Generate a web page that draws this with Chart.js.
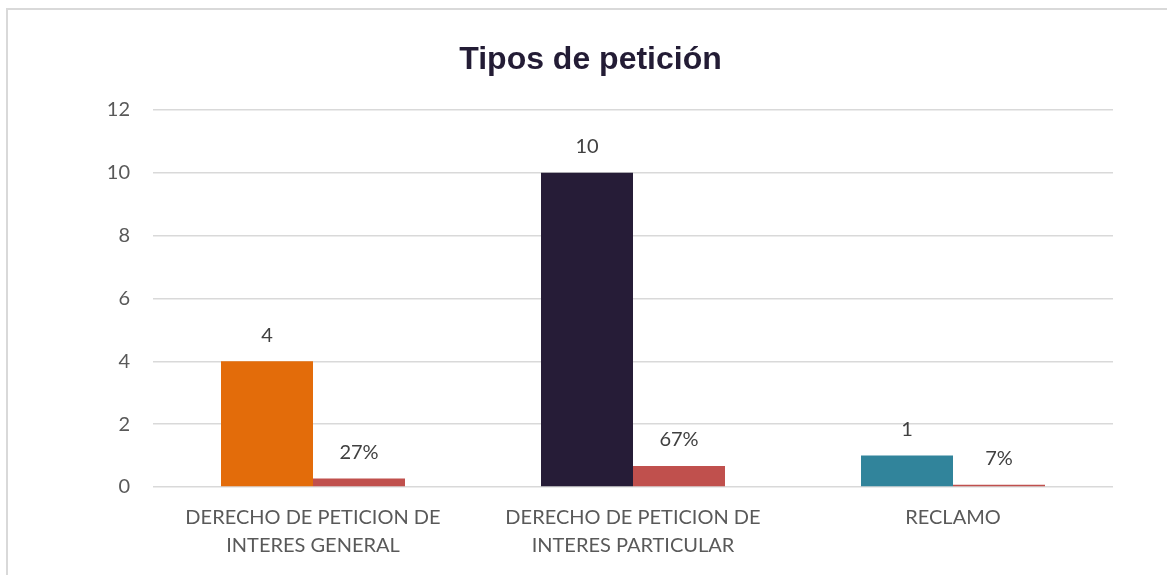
<!DOCTYPE html>
<html>
<head>
<meta charset="utf-8">
<script src="https://cdn.jsdelivr.net/npm/chart.js@4/dist/chart.umd.min.js"></script>
<style>
html,body{margin:0;padding:0;background:#fff;overflow:hidden;}
#wrap{position:relative;width:1167px;height:575px;}
#frame{position:absolute;left:6px;top:8px;width:1200px;height:600px;border:2px solid #d9d9d9;box-sizing:border-box;pointer-events:none;}
canvas{position:absolute;left:0;top:0;}
</style>
</head>
<body>
<div id="wrap">
<div id="frame"></div>
<canvas id="c" width="1167" height="575"></canvas>
</div>
<script>
const categories = [
  ["DERECHO DE PETICION DE", "INTERES GENERAL"],
  ["DERECHO DE PETICION DE", "INTERES PARTICULAR"],
  ["RECLAMO"]
];
const counts = [4, 10, 1];
const countLabels = ["4", "10", "1"];
const shares = [0.27, 0.67, 0.07];
const shareLabels = ["27%", "67%", "7%"];
const countColors = ["#E36C0A", "#261C37", "#31849B"];
const shareColor = "#C0504D";
const yTicks = [0, 2, 4, 6, 8, 10, 12];

const FONT = 'Lato, "Open Sans", sans-serif';

const labelPlugin = {
  id: 'barLabels',
  afterDatasetsDraw(chart) {
    const ctx = chart.ctx;
    ctx.save();
    ctx.font = '20px ' + FONT;
    ctx.fillStyle = '#404040';
    ctx.textAlign = 'center';
    ctx.textBaseline = 'middle';
    chart.data.datasets.forEach((ds, di) => {
      const meta = chart.getDatasetMeta(di);
      meta.data.forEach((bar, i) => {
        ctx.fillText(ds.valueLabels[i], bar.x, bar.y - 26);
      });
    });
    ctx.restore();
  }
};

new Chart(document.getElementById('c'), {
  type: 'bar',
  data: {
    labels: categories,
    datasets: [
      { data: counts, valueLabels: countLabels, backgroundColor: countColors, categoryPercentage: 0.575, barPercentage: 1.0 },
      { data: shares, valueLabels: shareLabels, backgroundColor: shareColor, categoryPercentage: 0.575, barPercentage: 1.0 }
    ]
  },
  options: {
    responsive: false,
    animation: false,
    events: [],
    layout: { padding: { left: 14, right: 0, top: 0, bottom: 0 } },
    plugins: {
      legend: { display: false },
      tooltip: { enabled: false },
      title: {
        display: true,
        text: 'Tipos de petición',
        color: '#231C35',
        font: { family: '"Liberation Sans", Arial, sans-serif', size: 32, weight: 'bold', lineHeight: 1.2 },
        padding: { top: 41, bottom: 30.6 }
      }
    },
    scales: {
      x: {
        grid: { display: false, drawTicks: false },
        border: { display: false },
        ticks: {
          color: '#595959',
          font: { family: FONT, size: 20, lineHeight: 1.4 },
          padding: 17,
          maxRotation: 0,
          autoSkip: false
        },
        afterFit(scale) { scale.height = 88; }
      },
      y: {
        min: 0,
        max: 12,
        afterBuildTicks(scale) { scale.ticks = yTicks.map(v => ({ value: v })); },
        grid: { color: '#d9d9d9', lineWidth: 1.5, drawTicks: false },
        border: { display: false },
        ticks: {
          color: '#595959',
          font: { family: FONT, size: 20 },
          padding: 23
        },
        afterFit(scale) { scale.width = 139; }
      },
      yRight: {
        position: 'right',
        display: true,
        min: 0,
        max: 12,
        grid: { display: false, drawTicks: false },
        border: { display: false },
        ticks: { display: false },
        afterFit(scale) { scale.width = 54; }
      }
    }
  },
  plugins: [labelPlugin]
});
</script>
</body>
</html>
